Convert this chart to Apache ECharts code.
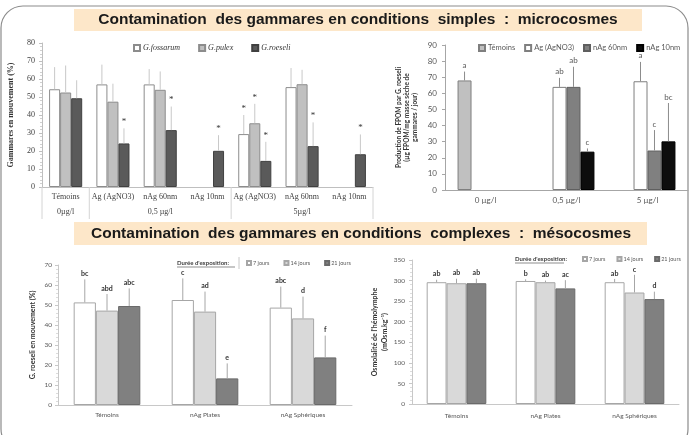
<!DOCTYPE html>
<html>
<head>
<meta charset="utf-8">
<script src="https://cdn.jsdelivr.net/npm/echarts@6/dist/echarts.min.js"></script>
<style>
html,body{margin:0;padding:0;background:#fff;}
#c{width:690px;height:435px;}
</style>
</head>
<body>
<div id="c"></div>
<script>
// ---------- Microcosmes : gammares en mouvement (%) ----------
const microCats = ["Témoins", "Ag (AgNO3)", "nAg 60nm", "nAg 10nm", "Ag (AgNO3)", "nAg 60nm", "nAg 10nm"];
const microGroups = ["0µg/l", "0,5 µg/l", "5µg/l"];
const microGroupSizes = [1, 3, 3];
const fossarum   = [54.3, 57.0, 57.0, null, 29.4, 55.5, null];
const fossarumSd = [12.3, 11.0, 8.5, null, 10.6, 10.6, null];
const fossarumSig = ["", "", "", "", "*", "", ""];
const pulex      = [52.5, 47.4, 54.0, null, 35.4, 57.1, null];
const pulexSd    = [15.0, 10.0, 10.2, null, 10.8, 8.0, null];
const pulexSig   = ["", "", "", "", "*", "", ""];
const roeseli    = [49.3, 24.2, 31.6, 20.1, 14.5, 22.7, 18.2];
const roeseliSd  = [10.0, 8.4, 13.1, 8.7, 10.6, 13.2, 11.0];
const roeseliSig = ["", "*", "*", "*", "*", "*", "*"];

// ---------- Microcosmes : production de FPOM ----------
const fpomCats = ["0 µg/l", "0,5 µg/l", "5 µg/l"];
const fpomTemoins   = [68.0, null, null];
const fpomTemoinsSd = [5.5, null, null];
const fpomTemoinsLb = ["a", "", ""];
const fpomAg        = [null, 64.0, 67.5];
const fpomAgSd      = [null, 5.6, 12.0];
const fpomAgLb      = ["", "ab", "a"];
const fpomN60       = [null, 64.0, 24.5];
const fpomN60Sd     = [null, 12.5, 12.7];
const fpomN60Lb     = ["", "ab", "c"];
const fpomN10       = [null, 23.8, 30.2];
const fpomN10Sd     = [null, 2.0, 23.8];
const fpomN10Lb     = ["", "c", "bc"];

// ---------- Mésocosmes : G. roeseli en mouvement (%) ----------
const mesoCats = ["Témoins", "nAg Plates", "nAg Sphériques"];
const mobJ7    = [51.3, 52.5, 48.7];
const mobJ7Sd  = [11.5, 10.8, 10.5];
const mobJ7Lb  = ["bc", "c", "abc"];
const mobJ14   = [47.2, 46.7, 43.3];
const mobJ14Sd = [8.3, 10.0, 10.9];
const mobJ14Lb = ["abd", "ad", "d"];
const mobJ21   = [49.5, 13.3, 23.8];
const mobJ21Sd = [8.8, 7.5, 10.9];
const mobJ21Lb = ["abc", "e", "f"];

// ---------- Mésocosmes : osmolalité de l'hémolymphe ----------
const osmJ7    = [296, 299, 296];
const osmJ7Sd  = [6, 4, 8];
const osmJ7Lb  = ["ab", "b", "ab"];
const osmJ14   = [293.5, 296, 271];
const osmJ14Sd = [11, 4, 43];
const osmJ14Lb = ["ab", "ab", "c"];
const osmJ21   = [293.5, 281, 255];
const osmJ21Sd = [11, 20, 18];
const osmJ21Lb = ["ab", "ac", "d"];

const SERIF = "Liberation Serif";
const SANS = "Lato";

const chart = echarts.init(document.getElementById('c'), null, {renderer: 'canvas'});

// bar series helper
function bar(name, grid, values, fill, border, gap) {
  return {
    type: 'bar', name: name, xAxisIndex: grid, yAxisIndex: grid,
    data: values, barGap: '0%', barCategoryGap: gap,
    itemStyle: {color: fill, borderColor: border, borderWidth: 1},
    emphasis: {disabled: true}, animation: false
  };
}

// upward error bar + significance label, placed on the k-th bar of n in each category
function errBars(grid, values, sds, labels, k, n, gapRatio, lineColor, font, textColor) {
  const items = [];
  const lbs = [];
  values.forEach((v, i) => {
    if (v == null) return;
    items.push([i, v, sds[i] || 0]);
    lbs.push(labels[i] || "");
  });
  return {
    type: 'custom', xAxisIndex: grid, yAxisIndex: grid, z: 5, silent: true,
    animation: false, clip: false,
    data: items,
    renderItem: function (params, api) {
      const xi = api.value(0), v = api.value(1), sd = api.value(2);
      const base = api.coord([xi, v]);
      const top = api.coord([xi, v + sd]);
      const band = api.size([1, 0])[0];
      const inner = band * (1 - gapRatio);
      const bw = inner / n;
      const x = base[0] - inner / 2 + (k + 0.5) * bw;
      const children = [];
      if (sd > 0) {
        children.push({type: 'line', shape: {x1: x, y1: base[1], x2: x, y2: top[1]},
          style: {stroke: lineColor, lineWidth: 1}});
      }
      const t = lbs[params.dataIndex];
      if (t) {
        children.push({type: 'text', style: {text: t, x: x, y: top[1] - 2,
          textAlign: 'center', textVerticalAlign: 'bottom', align: 'center', verticalAlign: 'bottom',
          font: font, fill: textColor}});
      }
      return {type: 'group', children: children};
    }
  };
}

// second-level category labels and group separators under the microcosm axis
function groupAxis(grid) {
  const items = [];
  let start = 0;
  microGroupSizes.forEach((s, gi) => { items.push([start, s, gi]); start += s; });
  return {
    type: 'custom', xAxisIndex: grid, yAxisIndex: grid, silent: true, clip: false,
    animation: false, data: items,
    renderItem: function (params, api) {
      const st = api.value(0), sz = api.value(1), gi = api.value(2);
      const band = api.size([1, 0])[0];
      const a = api.coord([st, 0]);
      const b = api.coord([st + sz - 1, 0]);
      const left = a[0] - band / 2, right = b[0] + band / 2, y0 = a[1];
      const ch = [
        {type: 'line', shape: {x1: left, y1: y0, x2: left, y2: y0 + 32}, style: {stroke: '#d4d4d4', lineWidth: 1}},
        {type: 'text', style: {text: microGroups[gi], x: (left + right) / 2, y: y0 + 25,
          textAlign: 'center', textVerticalAlign: 'middle', align: 'center', verticalAlign: 'middle',
          font: '8px "' + SERIF + '"', fill: '#404040'}}
      ];
      if (gi === microGroupSizes.length - 1) {
        ch.push({type: 'line', shape: {x1: right, y1: y0, x2: right, y2: y0 + 32}, style: {stroke: '#d4d4d4', lineWidth: 1}});
      }
      return {type: 'group', children: ch};
    }
  };
}

const axisGray = '#bfbfbf';

const option = {
  animation: false,
  backgroundColor: '#ffffff',
  grid: [
    {left: 42, top: 43, width: 331, height: 144},
    {left: 445, top: 45, width: 243, height: 145},
    {left: 58, top: 265, width: 294, height: 140},
    {left: 412, top: 260, width: 267, height: 144}
  ],
  xAxis: [
    {type: 'category', gridIndex: 0, data: microCats,
      axisLine: {lineStyle: {color: axisGray}}, axisTick: {length: 16, lineStyle: {color: '#d4d4d4'}},
      axisLabel: {fontFamily: SERIF, fontSize: 8, color: '#404040', margin: 6, interval: 0}},
    {type: 'category', gridIndex: 1, data: fpomCats,
      axisLine: {lineStyle: {color: '#a6a6a6'}}, axisTick: {length: 4, lineStyle: {color: '#a6a6a6'}},
      axisLabel: {fontFamily: SANS, fontSize: 8, color: '#595959', margin: 6}},
    {type: 'category', gridIndex: 2, data: mesoCats,
      axisLine: {lineStyle: {color: '#c8c8c8'}}, axisTick: {length: 3, lineStyle: {color: '#c8c8c8'}},
      axisLabel: {fontFamily: SANS, fontSize: 6.5, color: '#595959', margin: 6}},
    {type: 'category', gridIndex: 3, data: mesoCats,
      axisLine: {lineStyle: {color: '#c8c8c8'}}, axisTick: {length: 3, lineStyle: {color: '#c8c8c8'}},
      axisLabel: {fontFamily: SANS, fontSize: 6.5, color: '#595959', margin: 8}}
  ],
  yAxis: [
    {type: 'value', gridIndex: 0, min: 0, max: 80, interval: 10,
      name: 'Gammares en mouvement (%)', nameLocation: 'middle', nameGap: 27, nameRotate: 90,
      nameTextStyle: {fontFamily: SERIF, fontWeight: 'bold', fontSize: 8, color: '#333'},
      axisLine: {show: true, lineStyle: {color: axisGray}},
      axisTick: {show: true, length: 3, lineStyle: {color: axisGray}},
      minorTick: {show: true, splitNumber: 5, length: 2, lineStyle: {color: '#d0d0d0'}},
      splitLine: {show: false},
      axisLabel: {fontFamily: SERIF, fontSize: 8, color: '#404040', margin: 7}},
    {type: 'value', gridIndex: 1, min: 0, max: 90, interval: 10,
      name: 'Production de FPOM par G. roeseli\n(µg FPOM/mg masse sèche de\ngammares / jour)',
      nameLocation: 'middle', nameGap: 26, nameRotate: 90,
      nameTextStyle: {fontFamily: SANS, fontWeight: 'bold', fontSize: 6.5, color: '#333', lineHeight: 8},
      axisLine: {show: true, lineStyle: {color: '#a6a6a6'}},
      axisTick: {show: true, length: 3, lineStyle: {color: '#a6a6a6'}},
      splitLine: {show: false},
      axisLabel: {fontFamily: SANS, fontSize: 8, color: '#595959', margin: 8}},
    {type: 'value', gridIndex: 2, min: 0, max: 70, interval: 10,
      name: 'G. roeseli en mouvement (%)', nameLocation: 'middle', nameGap: 22, nameRotate: 90,
      nameTextStyle: {fontFamily: SANS, fontWeight: 'bold', fontSize: 7, color: '#333'},
      axisLine: {show: true, lineStyle: {color: '#c8c8c8'}},
      axisTick: {show: true, length: 3, lineStyle: {color: '#c8c8c8'}},
      minorTick: {show: true, splitNumber: 5, length: 2, lineStyle: {color: '#dcdcdc'}},
      splitLine: {show: false},
      axisLabel: {fontFamily: SANS, fontSize: 6.5, color: '#595959', margin: 6}},
    {type: 'value', gridIndex: 3, min: 0, max: 350, interval: 50,
      name: "Osmolalité de l'hémolymphe\n(mOsm.kg⁻¹)", nameLocation: 'middle', nameGap: 22, nameRotate: 90,
      nameTextStyle: {fontFamily: SANS, fontWeight: 'bold', fontSize: 7, color: '#333', lineHeight: 10},
      axisLine: {show: true, lineStyle: {color: '#c8c8c8'}},
      axisTick: {show: true, length: 3, lineStyle: {color: '#c8c8c8'}},
      minorTick: {show: true, splitNumber: 5, length: 2, lineStyle: {color: '#dcdcdc'}},
      splitLine: {show: false},
      axisLabel: {fontFamily: SANS, fontSize: 6.5, color: '#595959', margin: 7}}
  ],
  legend: [
    {data: ['G.fossarum', 'G.pulex', 'G.roeseli'], left: 133, top: 44, padding: 0, itemWidth: 6, itemHeight: 6,
      itemGap: 18, icon: 'rect', selectedMode: false,
      textStyle: {fontFamily: SERIF, fontStyle: 'italic', fontSize: 8, color: '#333', padding: [0, 0, 0, -2]}},
    {data: ['Témoins', 'Ag (AgNO3)', 'nAg 60nm', 'nAg 10nm'], left: 478, top: 44, padding: 0, width: 210,
      itemWidth: 6, itemHeight: 6, itemGap: 9, icon: 'rect', selectedMode: false,
      textStyle: {fontFamily: SANS, fontSize: 7.5, color: '#595959', padding: [0, 0, 0, -2]}},
    {data: ['7 jours', '14 jours', '21 jours'], left: 246, top: 260, padding: 0, itemWidth: 4, itemHeight: 4,
      itemGap: 14, icon: 'rect', selectedMode: false,
      textStyle: {fontFamily: SANS, fontSize: 5.5, color: '#595959', padding: [0, 0, 0, -3]}},
    {data: ['7 jours', '14 jours', '21 jours'], left: 582, top: 256, padding: 0, itemWidth: 4, itemHeight: 4,
      itemGap: 11, icon: 'rect', selectedMode: false,
      textStyle: {fontFamily: SANS, fontSize: 5.5, color: '#595959', padding: [0, 0, 0, -3]}}
  ],
  graphic: [
    {type: 'rect', shape: {x: 1, y: 6, width: 687, height: 445, r: 22}, silent: true,
      style: {fill: 'none', stroke: '#8c8c8c', lineWidth: 1.2}},
    {type: 'rect', shape: {x: 74, y: 9, width: 568, height: 22}, silent: true, style: {fill: '#fde7c9'}},
    {type: 'text', x: 358, y: 20, silent: true,
      style: {text: 'Contamination  des gammares en conditions  simples  :  microcosmes', font: 'bold 15.5px "Liberation Sans"',
        fill: '#1a1a1a', align: 'center', verticalAlign: 'middle'}},
    {type: 'rect', shape: {x: 74, y: 222, width: 573, height: 23}, silent: true, style: {fill: '#fde7c9'}},
    {type: 'text', x: 361, y: 233.5, silent: true,
      style: {text: 'Contamination  des gammares en conditions  complexes  :  mésocosmes', font: 'bold 15.5px "Liberation Sans"',
        fill: '#1a1a1a', align: 'center', verticalAlign: 'middle'}},
    {type: 'text', x: 177, y: 263, silent: true,
      style: {text: "Durée d'exposition:", font: 'bold 6px "' + SANS + '"', fill: '#404040', verticalAlign: 'middle'}},
    {type: 'line', shape: {x1: 177, y1: 267, x2: 235, y2: 267}, silent: true, style: {stroke: '#404040', lineWidth: 0.6}},
    {type: 'line', shape: {x1: 239, y1: 257, x2: 239, y2: 269}, silent: true, style: {stroke: '#c8c8c8', lineWidth: 1}},
    {type: 'text', x: 515, y: 259, silent: true,
      style: {text: "Durée d'exposition:", font: 'bold 6px "' + SANS + '"', fill: '#404040', verticalAlign: 'middle'}},
    {type: 'line', shape: {x1: 515, y1: 263, x2: 564, y2: 263}, silent: true, style: {stroke: '#404040', lineWidth: 0.6}}
  ],
  series: [
    // microcosmes mobility
    bar('G.fossarum', 0, fossarum, '#ffffff', '#8c8c8c', '30%'),
    bar('G.pulex', 0, pulex, '#c0c0c0', '#8c8c8c', '30%'),
    bar('G.roeseli', 0, roeseli, '#5a5a5a', '#404040', '30%'),
    errBars(0, fossarum, fossarumSd, fossarumSig, 0, 3, 0.30, '#c8c8c8', '9px "' + SERIF + '"', '#333'),
    errBars(0, pulex, pulexSd, pulexSig, 1, 3, 0.30, '#c8c8c8', '9px "' + SERIF + '"', '#333'),
    errBars(0, roeseli, roeseliSd, roeseliSig, 2, 3, 0.30, '#c8c8c8', '9px "' + SERIF + '"', '#333'),
    groupAxis(0),
    // microcosmes FPOM
    bar('Témoins', 1, fpomTemoins, '#c0c0c0', '#7f7f7f', '31%'),
    bar('Ag (AgNO3)', 1, fpomAg, '#ffffff', '#7f7f7f', '31%'),
    bar('nAg 60nm', 1, fpomN60, '#808080', '#5f5f5f', '31%'),
    bar('nAg 10nm', 1, fpomN10, '#0d0d0d', '#000000', '31%'),
    errBars(1, fpomTemoins, fpomTemoinsSd, fpomTemoinsLb, 0, 4, 0.31, '#8c8c8c', '8px "' + SANS + '"', '#595959'),
    errBars(1, fpomAg, fpomAgSd, fpomAgLb, 1, 4, 0.31, '#8c8c8c', '8px "' + SANS + '"', '#595959'),
    errBars(1, fpomN60, fpomN60Sd, fpomN60Lb, 2, 4, 0.31, '#8c8c8c', '8px "' + SANS + '"', '#595959'),
    errBars(1, fpomN10, fpomN10Sd, fpomN10Lb, 3, 4, 0.31, '#8c8c8c', '8px "' + SANS + '"', '#595959'),
    // mésocosmes mobility
    bar('7 jours', 2, mobJ7, '#ffffff', '#a6a6a6', '32%'),
    bar('14 jours', 2, mobJ14, '#d9d9d9', '#a6a6a6', '32%'),
    bar('21 jours', 2, mobJ21, '#808080', '#6a6a6a', '32%'),
    errBars(2, mobJ7, mobJ7Sd, mobJ7Lb, 0, 3, 0.32, '#a6a6a6', 'bold 7px "' + SANS + '"', '#333'),
    errBars(2, mobJ14, mobJ14Sd, mobJ14Lb, 1, 3, 0.32, '#a6a6a6', 'bold 7px "' + SANS + '"', '#333'),
    errBars(2, mobJ21, mobJ21Sd, mobJ21Lb, 2, 3, 0.32, '#a6a6a6', 'bold 7px "' + SANS + '"', '#333'),
    // mésocosmes osmolality
    bar('7 jours', 3, osmJ7, '#ffffff', '#a6a6a6', '33%'),
    bar('14 jours', 3, osmJ14, '#d9d9d9', '#a6a6a6', '33%'),
    bar('21 jours', 3, osmJ21, '#808080', '#6a6a6a', '33%'),
    errBars(3, osmJ7, osmJ7Sd, osmJ7Lb, 0, 3, 0.33, '#a6a6a6', 'bold 7px "' + SANS + '"', '#333'),
    errBars(3, osmJ14, osmJ14Sd, osmJ14Lb, 1, 3, 0.33, '#a6a6a6', 'bold 7px "' + SANS + '"', '#333'),
    errBars(3, osmJ21, osmJ21Sd, osmJ21Lb, 2, 3, 0.33, '#a6a6a6', 'bold 7px "' + SANS + '"', '#333')
  ]
};

chart.setOption(option);
</script>
</body>
</html>
